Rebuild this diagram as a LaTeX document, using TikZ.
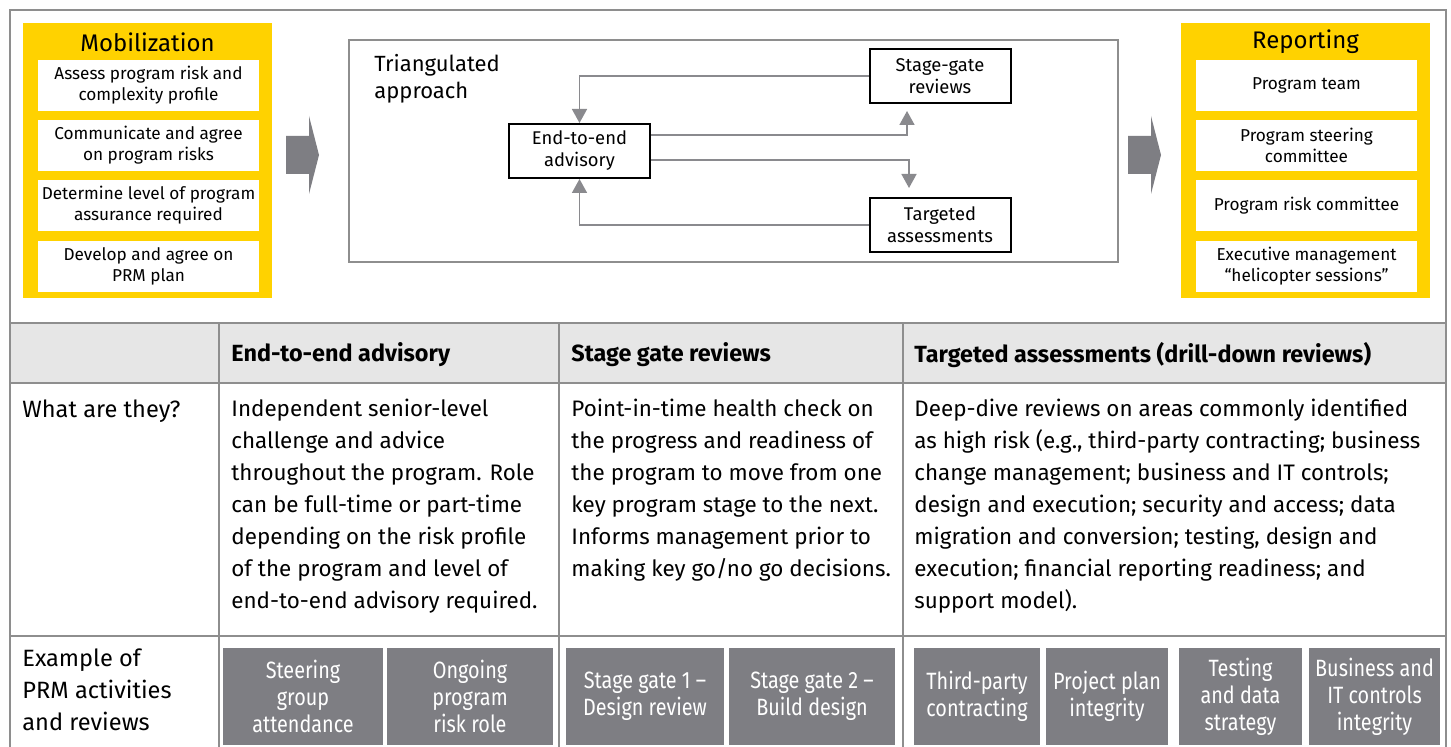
\documentclass[tikz,border=0pt]{standalone}
\usepackage{fontspec}
\setmainfont{Fira Sans}
\newfontfamily\cond{Fira Sans}[FakeStretch=0.84]
\usetikzlibrary{arrows.meta}
\definecolor{eyyellow}{HTML}{FFD200}
\definecolor{framegray}{HTML}{8E8E8E}
\definecolor{boxgray}{HTML}{7E7E83}
\definecolor{headgray}{HTML}{E6E6E6}
\definecolor{conngray}{HTML}{8A8A8E}
\begin{document}
\begin{tikzpicture}[x=0.5pt,y=-0.5pt,
  tline/.style={draw=framegray,line width=1.25pt},
  ybox/.style={fill=eyyellow,minimum width=124.5pt,minimum height=137.5pt,inner sep=0},
  ytitle/.style={font=\fontsize{12}{13}\selectfont,inner sep=0},
  wbox/.style={fill=white,minimum width=110.5pt,minimum height=25.5pt,inner sep=0,align=center,
    font=\fontsize{8.6}{10.5}\selectfont},
  dbox/.style={draw=black,line width=1pt,fill=white,minimum width=70.5pt,minimum height=27pt,inner sep=0,align=center,
    font=\fontsize{9.2}{11}\selectfont},
  conn/.style={draw=conngray,line width=0.8pt},
  tip/.style={-{Triangle[length=7pt,width=7.5pt]},conngray},
  blockarrow/.style={fill=boxgray},
  headtext/.style={font=\bfseries\fontsize{11.7}{13}\selectfont,anchor=west,inner sep=0},
  bodytext/.style={font=\fontsize{11.2}{16}\selectfont,anchor=north west,inner sep=0,align=left},
  lefttext/.style={font=\fontsize{11.8}{16}\selectfont,anchor=north west,inner sep=0,align=left},
  gbox/.style={fill=boxgray,text=white,inner sep=0,align=center,minimum height=48.5pt,
    font=\cond\fontsize{11.8}{13.5}\selectfont},
]
\useasboundingbox (0,0) rectangle (1451,747);
\fill[white] (0,0) rectangle (1451,747);

% ---------- frame and table grid ----------
\fill[headgray] (10,323) rectangle (1446,383);
\draw[tline] (10,747) -- (10,10) -- (1446,10) -- (1446,747);
\draw[tline] (10,323) -- (1446,323);
\draw[tline] (10,383) -- (1446,383);
\draw[tline] (10,636) -- (1446,636);
\draw[tline] (219,323) -- (219,747);
\draw[tline] (559,323) -- (559,747);
\draw[tline] (903,323) -- (903,747);

% ---------- Mobilization ----------
\node[ybox] (mob) at (147.5,160.5) {};
\node[ytitle] (mobt) at (147.5,42) {Mobilization};
\node[wbox] (m1) at (148.5,85.5) {Assess program risk and\\complexity profile};
\node[wbox] (m2) at (148.5,145.5) {Communicate and agree\\on program risks};
\node[wbox] (m3) at (148.5,205.5) {Determine level of program\\assurance required};
\node[wbox] (m4) at (148.5,266.5) {Develop and agree on\\PRM plan};

% block arrows
\fill[blockarrow] (286,136) -- (309,136) -- (309,116) -- (319,155) -- (309,194) -- (309,174) -- (286,174) -- cycle;
\fill[blockarrow] (1128,136) -- (1151,136) -- (1151,116) -- (1161,155) -- (1151,194) -- (1151,174) -- (1128,174) -- cycle;

% ---------- Reporting ----------
\node[ybox] (rep) at (1305.5,160.5) {};
\node[ytitle] (rept) at (1305.5,42) {Reporting};
\node[wbox] (r1) at (1306.5,85.5) {Program team};
\node[wbox] (r2) at (1306.5,145.5) {Program steering\\committee};
\node[wbox] (r3) at (1306.5,205.5) {Program risk committee};
\node[wbox] (r4) at (1306.5,266.5) {Executive management\\``helicopter sessions''};

% ---------- Triangulated approach ----------
\draw[draw=framegray,line width=1pt] (349,40) rectangle (1118,262);
\node[font=\fontsize{11}{13.5}\selectfont,anchor=north west,inner sep=0,align=left] (tri) at (374,54) {Triangulated\\approach};
\node[dbox] (sg) at (940,76) {Stage-gate\\reviews};
\node[dbox] (ee) at (579.5,151) {End-to-end\\advisory};
\node[dbox] (tg) at (940,225) {Targeted\\assessments};
\coordinate (upend) at (907,111);
\coordinate (downend) at (909,188);
\draw[conn,tip] (sg.west) -| (ee.north);
\draw[conn,tip] ([yshift=8pt]ee.east) -| (upend);
\draw[conn,tip] ([yshift=-4.5pt]ee.east) -| (downend);
\draw[conn,tip] (tg.west) -| (ee.south);

% ---------- table header ----------
\node[headtext] (h1) at (231,355) {End-to-end advisory};
\node[headtext] (h2) at (571,355) {Stage gate reviews};
\node[headtext] (h3) at (914,355) {Targeted assessments (drill-down reviews)};

% ---------- row: what are they ----------
\node[lefttext] (q1) at (22,399) {What are they?};
\node[bodytext] (a1) at (231,399) {Independent senior-level\\challenge and advice\\throughout the program. Role\\can be full-time or part-time\\depending on the risk profile\\of the program and level of\\end-to-end advisory required.};
\node[bodytext] (a2) at (571,399) {Point-in-time health check on\\the progress and readiness of\\the program to move from one\\key program stage to the next.\\Informs management prior to\\making key go/no go decisions.};
\node[bodytext] (a3) at (914,399) {Deep-dive reviews on areas commonly identified\\as high risk (e.g., third-party contracting; business\\change management; business and IT controls;\\design and execution; security and access; data\\migration and conversion; testing, design and\\execution; financial reporting readiness; and\\support model).};

% ---------- row: examples ----------
\node[lefttext] (q2) at (22,648) {Example of\\PRM activities\\and reviews};
\node[gbox,minimum width=80pt] (g1) at (303,696.5) {Steering\\group\\attendance};
\node[gbox,minimum width=83pt] (g2) at (470,696.5) {Ongoing\\program\\risk role};
\node[gbox,minimum width=79pt] (g3) at (645,696.5) {Stage gate 1 –\\Design review};
\node[gbox,minimum width=83pt] (g4) at (812,696.5) {Stage gate 2 –\\Build design};
\node[gbox,minimum width=63pt] (g5) at (977,696.5) {Third-party\\contracting};
\node[gbox,minimum width=61pt] (g6) at (1107,696.5) {Project plan\\integrity};
\node[gbox,minimum width=61.5pt] (g7) at (1240.5,696.5) {Testing\\and data\\strategy};
\node[gbox,minimum width=65.5pt] (g8) at (1374.5,696.5) {Business and\\IT controls\\integrity};
\end{tikzpicture}
\end{document}
